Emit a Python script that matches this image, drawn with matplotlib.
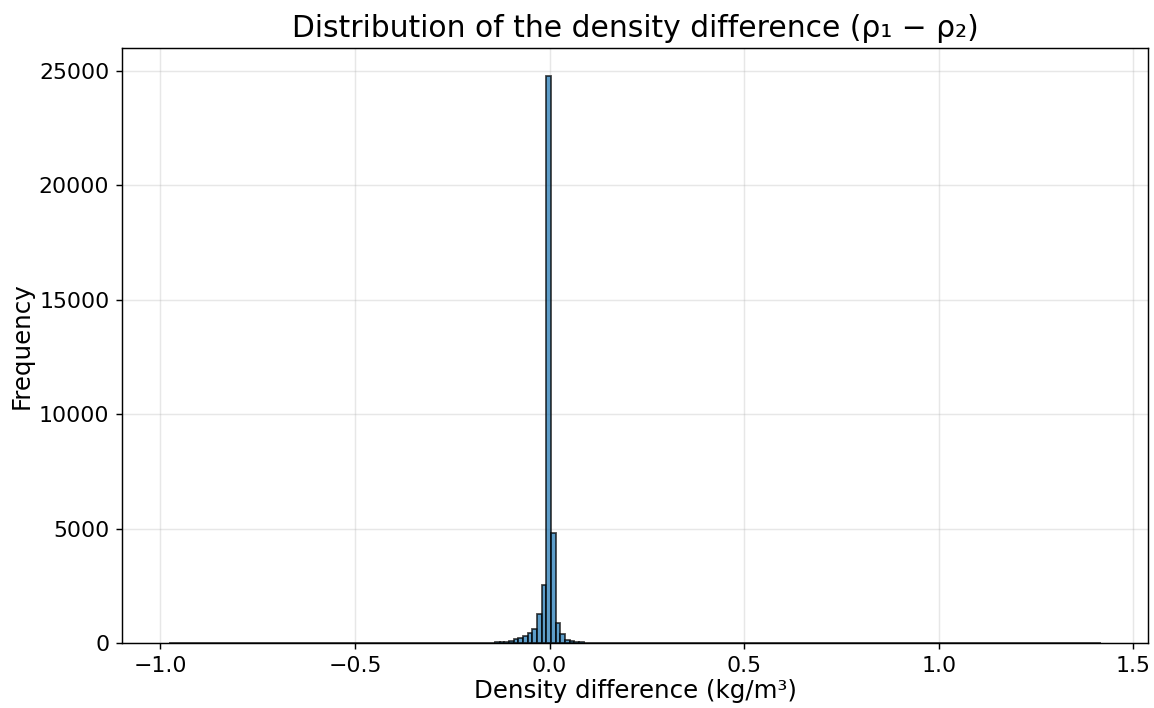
import numpy as np
import matplotlib
matplotlib.use("Agg")
import matplotlib.pyplot as plt

# histogram: 200 equal bins between the data min and max
x_min = -0.979
x_max = 1.418
n_bins = 200

# counts of the bins around zero (first index = first_bin), all other bins are ~0
first_bin = 66
center_counts = [5, 8, 12, 18, 25, 40, 60, 100, 160, 230, 306, 423, 598,
                 1270, 2550, 24750, 4790, 890, 380, 140, 70, 40, 25, 15,
                 10, 6, 4]

edges = np.linspace(x_min, x_max, n_bins + 1)
counts = np.zeros(n_bins)
counts[first_bin:first_bin + len(center_counts)] = center_counts

fig = plt.figure(figsize=(1154 / 130, 708 / 130), dpi=130)
ax = fig.add_subplot(111)
fig.subplots_adjust(left=0.1057, right=0.9948, bottom=0.0918, top=0.932)

ax.hist(edges[:-1], bins=edges, weights=counts, color="#1f77b4",
        alpha=0.72, edgecolor="black", linewidth=1.0)

ax.set_title("Distribution of the density difference (ρ₁ − ρ₂)", fontsize=16.5)
ax.set_xlabel("Density difference (kg/m³)", fontsize=13.6, labelpad=2)
ax.set_ylabel("Frequency", fontsize=13.6, labelpad=3)
ax.tick_params(labelsize=12.2)
ax.grid(True, alpha=0.3)
ax.set_axisbelow(True)

fig.savefig("out.png", dpi=130)
